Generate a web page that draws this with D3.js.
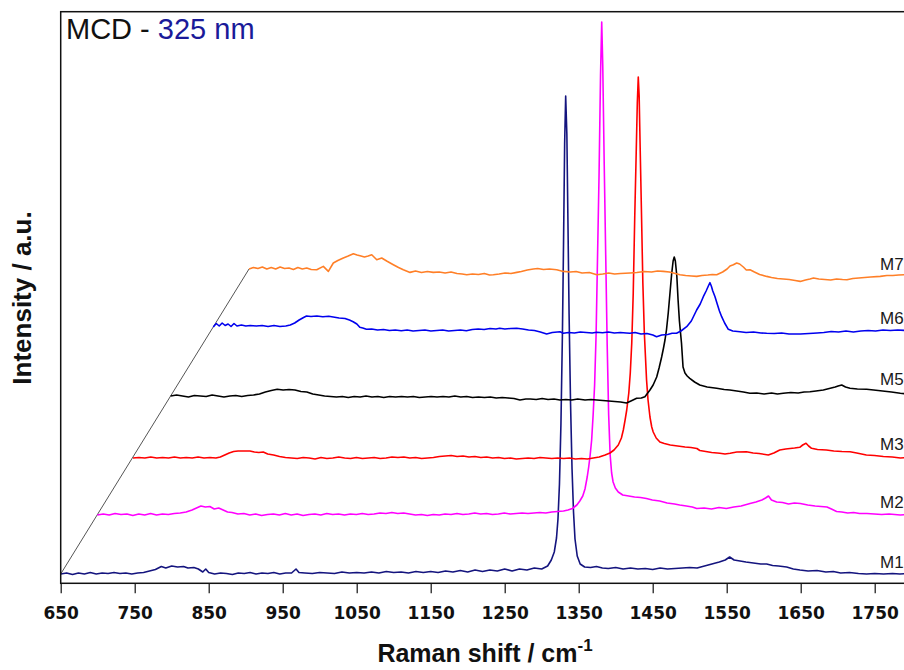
<!DOCTYPE html>
<html>
<head>
<meta charset="utf-8">
<script src="https://cdn.jsdelivr.net/npm/d3@7"></script>
<style>
  html, body { margin: 0; padding: 0; background: #fff; }
  svg { display: block; font-family: "Liberation Sans", Arial, sans-serif; }
</style>
</head>
<body>
<svg id="chart" width="904" height="670"></svg>
<script>
// ---------------- DATA ----------------
const categories = ["M1", "M2", "M3", "M5", "M6", "M7"];
// waterfall offsets applied to each spectrum (cm-1 shift, a.u. shift)
const xOffsets = [0, 49.5, 97.7, 148.6, 206.2, 254.5];
const yOffsets = [0, 59, 116, 178, 248, 305];
const xTicks = [650, 750, 850, 950, 1050, 1150, 1250, 1350, 1450, 1550, 1650, 1750];

// spectra: [Raman shift (cm-1), intensity (a.u.)]
const m1 = [[650,0],[658,1],[666,-0.5],[674,1],[682,0],[690,1.5],[698,0],[706,1],[714,0.5],[722,1.5],[730,0.5],[738,1],[746,0],[754,1],[762,1.5],[770,3],[778,4.5],[786,7.5],[792,6],[800,8],[808,7],[816,7.5],[822,6],[830,6.5],[836,5],[842,2],[846,5],[850,1.5],[858,0],[866,1],[874,0.5],[882,-0.5],[890,1],[898,0.5],[906,1.5],[914,0],[922,1],[930,0.5],[938,1.5],[946,0],[954,1],[962,1],[968,5],[972,1.5],[980,1],[990,0.5],[1000,1.5],[1010,1],[1020,0.5],[1030,2],[1040,1],[1050,1.5],[1060,1],[1070,2],[1080,1],[1090,2.5],[1100,1.5],[1110,2],[1120,1],[1130,2.5],[1140,1.5],[1150,2.5],[1160,1.5],[1170,3],[1180,2],[1190,3.5],[1200,2],[1210,4],[1220,2.5],[1230,4],[1240,3],[1250,5],[1260,3],[1270,5],[1280,4],[1290,6],
  [1300,5],[1308,8],[1313,14],[1317,22],[1320,36],[1322,55],[1324,90],[1326,150],[1328,240],[1329.5,330],[1331,430],[1332.4,478],[1334,440],[1335.5,350],[1337,260],[1339,170],[1341,105],[1343,62],[1345,35],[1348,18],[1352,10],[1358,7],
  [1366,6.5],[1374,7.5],[1382,6],[1390,5.5],[1400,6.5],[1410,5],[1420,6],[1430,5],[1440,5.5],[1450,4.5],[1460,6],[1470,5],[1480,5.5],[1490,6],[1500,6.5],[1510,6],[1520,8],[1530,10],[1540,12],[1548,14],[1554,17],[1560,14],[1568,13],[1576,12],[1586,11],[1596,10],[1604,10],[1612,8.5],[1620,8],[1631,7],[1640,5],[1649,4],[1660,3],[1672,3.5],[1684,2],[1694,2.5],[1704,1],[1716,1.5],[1728,0.5],[1739,0],[1750,0.5],[1762,0],[1774,0.5],[1784,0],[1796,0.5]];

const m2 = [[650,0],[658,1],[666,0],[674,1.5],[682,0.5],[690,1],[698,-0.5],[706,1],[714,0],[722,1.5],[730,0],[738,1],[746,0.5],[754,1.5],[762,2],[770,3],[778,5],[784,7],[790,9],[796,8],[802,8.5],[808,6],[814,7],[820,5],[826,3],[832,2.5],[840,1],[848,1.5],[856,0],[864,1],[872,-0.5],[880,0.5],[888,1],[896,0],[904,1.5],[912,0],[920,1],[928,-0.5],[936,0.5],[944,1],[952,0],[960,1.5],[968,0.5],[976,1],[984,0],[992,1],[1000,0.5],[1008,1.5],[1016,0.5],[1024,1],[1032,2],[1040,1.5],[1048,2.5],[1056,1.5],[1064,2],[1072,1],[1080,0],[1088,0.5],[1096,-0.5],[1104,0.5],[1112,0],[1120,1],[1128,0.5],[1136,1.5],[1144,0.5],[1152,1],[1160,2],[1168,1],[1176,1.5],[1184,0.5],[1192,1],[1200,2],[1208,1],[1216,1.5],[1224,2],[1232,1.5],[1240,2],[1248,2.5],[1256,2],[1264,3],[1272,3.5],[1280,4],[1286,5],[1292,6.5],
  [1298,10],[1302,14],[1306,19],[1309,26],[1312,38],[1314,48],[1316,60],[1318,75],[1320,100],[1322,130],[1324,180],[1326,260],[1328,340],[1330,440],[1331.6,493],[1333,450],[1335,350],[1337,260],[1339,170],[1341,100],[1343,60],[1345,42],[1347,33],[1350,27],[1354,23],[1360,20],[1368,19],[1376,18],[1384,17.5],[1392,16.5],[1400,15],[1410,14],[1420,12],[1430,11],[1437,10],[1446,9],[1454,8],[1460,6.5],[1470,7],[1480,6],[1490,7.5],[1500,6.5],[1510,8],[1520,9],[1532,11.5],[1540,13],[1548,15],[1553,17],[1557,19],[1561,15],[1568,13],[1576,12.5],[1584,11],[1592,12],[1600,11.5],[1610,10],[1620,9],[1628,8.5],[1636,8],[1642,6],[1649,3.5],[1656,3],[1664,2],[1672,2.5],[1680,1.5],[1690,1.5],[1700,1],[1710,0.5],[1720,1],[1735,0],[1745,0.5],[1760,0]];

const m3 = [[650,0],[658,0.5],[666,0],[674,1],[682,0],[690,0.5],[698,0],[706,1],[714,0],[722,0.5],[730,0],[738,1],[746,0],[754,0.5],[762,0],[768,1],[774,3],[780,5],[786,6.5],[792,7],[800,7],[808,7],[814,6],[820,5.5],[826,6],[832,4],[840,3],[848,1.5],[856,0.5],[864,0],[872,-0.5],[880,0.5],[888,0],[896,-1],[904,0.5],[912,-0.5],[920,0],[928,1],[936,0],[944,-0.5],[952,0.5],[960,-0.5],[968,0],[976,0.5],[984,-0.5],[992,0],[1000,1],[1008,0.5],[1016,1],[1024,0],[1032,0.5],[1040,-0.5],[1048,0],[1056,0.5],[1064,1.5],[1072,2],[1080,2.5],[1088,1.5],[1096,2],[1104,1],[1112,1.5],[1120,0.5],[1128,1],[1136,0],[1144,0.5],[1152,-0.5],[1160,0],[1168,-1],[1176,-0.5],[1184,0],[1192,-0.5],[1200,0.5],[1208,0],[1216,-0.5],[1224,0],[1232,-0.5],[1240,0],[1248,-1],[1256,-0.5],[1264,-1],[1272,0],[1280,1],[1288,3],
  [1294.6,5],[1300,8],[1305.8,13],[1310,20],[1312.6,28],[1315,38],[1317.2,48],[1320,65],[1322,85],[1324,115],[1326,165],[1328,240],[1330,305],[1331.5,355],[1332.8,381],[1334,362],[1335.5,305],[1337,250],[1339,175],[1341,125],[1344,78],[1346,58],[1348.6,41],[1351,31],[1353,26],[1357,20],[1362,16],[1368,14.5],[1376,13],[1386,12],[1396,11],[1404,10.5],[1412,9.5],[1416,7.5],[1424,6.5],[1432,5.5],[1443,4.7],[1450,4],[1457,4.7],[1466,6],[1479,6.3],[1488,5],[1496,4.5],[1508.5,3],[1516,5],[1524,8],[1532,9],[1544,10],[1551,10.7],[1555,13],[1559.5,14.7],[1563,12],[1567,9.7],[1575,8.5],[1587,8],[1597,7],[1608,6.5],[1619,6.3],[1628,5],[1641,3],[1652,2.5],[1664,1.5],[1676,1],[1687,0],[1700,0.5],[1715,0]];

const m5 = [[650,0],[658,1],[666,0],[674,-1],[682,0.5],[690,0],[698,-0.5],[706,1],[714,0],[722,-1],[730,0],[738,0.5],[746,-0.5],[754,0.5],[762,1],[770,2],[778,4],[786,5.5],[794,6.7],[802,6],[810,6.5],[818,6],[826,4.5],[834,4],[842,2],[850,1],[858,0],[866,-0.5],[874,-1],[882,-0.5],[890,-1.5],[898,-0.5],[906,-1],[914,0],[922,-1],[930,-0.5],[938,-1.5],[946,-0.5],[954,-1],[962,-0.5],[970,-1],[978,-0.5],[986,-1.5],[994,-1],[1002,-0.5],[1010,-1],[1018,-0.5],[1026,-1],[1034,0],[1042,-1],[1050,-0.5],[1058,-1.5],[1066,-1],[1074,-1.5],[1082,-1],[1090,-2],[1098,-1.5],[1106,-2],[1114,-2.5],[1122,-4],[1130,-3],[1136,-3],[1144,-3.5],[1152,-2.5],[1160,-3.5],[1168,-3],[1176,-4],[1184,-3.5],[1192,-4],[1200,-3],[1210,-4],[1218,-3.5],[1226,-4],[1234,-4.5],[1242,-5],[1250,-5.5],[1258,-6],[1266,-7],[1272,-5],[1279.7,-2.3],[1286,-2],[1290.9,-0.7],
  [1297.7,6],[1302,11],[1306.8,19],[1310,28],[1313.5,39],[1316,48],[1318,56],[1320,66],[1322.4,83],[1325,105],[1327,122],[1329,135],[1330.5,139],[1332,135],[1334,120],[1335.7,96],[1337.5,75],[1340.3,53],[1342.4,29],[1345,23],[1348,20],[1351.5,17.7],[1358,14],[1365,11],[1375,9],[1387.8,7.7],[1398,6.5],[1405.7,6],[1415,5],[1424,4],[1432.8,2.7],[1442,3],[1452,2],[1462,3],[1470,2],[1477.8,2.7],[1488,3.5],[1498,3],[1506,4],[1513.9,4.3],[1522,5],[1532,6],[1540,7.5],[1548,9],[1552,10],[1556.8,11],[1562,9],[1568,7.7],[1578,7],[1590.5,6.7],[1600,6],[1612,5],[1624,4],[1636,2.7],[1648,2],[1660,1.5],[1675,1],[1690,0.5]];

const m6 = [[650,-1],[654,2.5],[658,0],[662,3],[666,0.5],[670,2],[674,-0.5],[678,2.5],[682,0],[688,1],[694,0],[700,0.5],[708,0],[716,0.5],[724,-0.5],[732,0.5],[740,-0.5],[748,0],[754,1],[760,3],[766,6],[772,8.5],[776,10],[782,9.5],[790,10],[798,9.3],[806,9.7],[812,9],[820,8],[828,7.5],[834,6],[839,4.3],[844,2],[848,-1.3],[852,-2],[857,-3.3],[864,-3],[872,-4],[880,-3.5],[888,-4.5],[896,-4],[904,-4.7],[912,-4],[920,-5],[928,-4.5],[936,-4],[944,-5],[952,-4.5],[960,-4],[968,-5],[976,-4.5],[984,-4],[992,-4.7],[1000,-3.5],[1008,-3],[1016,-3.5],[1024,-2.5],[1032,-3],[1037,-2.3],[1044,-3],[1052,-2.5],[1060,-2.3],[1068,-3],[1076,-4],[1084,-4.5],[1092,-6],[1100.5,-8],[1108,-6.5],[1118.5,-5.7],[1123,-7.3],[1130,-6.5],[1138,-7],[1146,-6],[1154,-6.5],[1162,-7],[1168,-6.3],[1176,-6.8],[1184,-6],[1192,-7],[1200,-6.5],[1208,-7],[1213,-7.3],[1220,-6.5],[1228,-8],[1236,-7.5],[1244,-9],[1249,-10.7],[1256,-9],[1264,-8.5],[1270,-7.3],[1276,-7.3],[1282,-5],[1289.7,-0.7],
  [1296,5],[1303.2,16],[1308,22],[1312.2,29.3],[1316,35],[1319,40],[1321.2,43.3],[1323,40],[1325,35],[1328,29.3],[1331,22],[1334,15],[1337,9.3],[1341,3],[1346,-3.3],[1352,-5],[1361.8,-5.7],[1370,-6.5],[1380,-6],[1390,-7],[1397.8,-7.3],[1408,-7.5],[1418,-7],[1428,-8],[1443.4,-8],[1455,-7.5],[1466,-7],[1475,-6.5],[1485,-5.5],[1495,-6],[1505,-5],[1515,-6],[1525,-5],[1535,-4.5],[1545,-5],[1555,-4],[1565,-4.5],[1575,-4],[1585,-4.5],[1595,-4]];

const m7 = [[650,0],[656,1.5],[662,0.5],[668,2],[674,0],[680,1.5],[686,0],[692,2],[698,0.5],[704,1],[710,-0.5],[716,1.5],[722,0],[728,1],[734,-0.5],[741.5,-0.7],[750.4,2.6],[757.2,-2.4],[763.9,6],[770,8.5],[777.4,11],[784,13],[791,15.3],[796,14],[800,13.3],[806,12],[811,13],[815.8,14.3],[822.6,9.3],[829.3,11],[836,8],[845,4.3],[852,1.5],[858.5,-0.7],[867.6,-3.4],[875,-2],[883,-3.5],[891,-2.5],[899,-3.4],[907,-3],[915,-4],[923,-3],[931,-4.5],[938,-5],[944.2,-5.7],[952,-5],[960,-5.5],[968,-4.5],[975,-6],[980.1,-5.7],[988,-5],[996,-4],[1004,-4.5],[1011.8,-3.4],[1018,-2.5],[1026,-1],[1034.2,0],[1040,0.5],[1048,-0.5],[1056,0],[1065.8,-0.7],[1074.7,-2.4],[1084,-3],[1092,-2.5],[1100,-4],[1110,-3.5],[1119.9,-5.7],[1128,-5],[1136,-4],[1144,-5],[1152,-4.5],[1164.9,-4],[1174,-3.5],[1184,-2.5],[1194,-3],[1202,-2],[1209.9,-2.4],[1218,-3],[1226,-4.5],[1232.4,-5.7],[1240,-6.5],[1248,-7],[1255,-7.4],[1262,-6.5],[1270,-6],[1276,-5.5],[1282,-5.7],[1290,-3],[1296,0],[1300,3],[1304.5,4.3],[1309,6],[1313,5],[1318,2],[1322,-1],[1327,-0.7],[1333,-3],[1340,-5.5],[1349.6,-7.4],[1356,-8.5],[1364,-9.5],[1372,-10],[1380,-10.5],[1388,-11.5],[1394.9,-12.4],[1402,-11],[1408,-10],[1412.8,-9],[1420,-10],[1428,-10.5],[1436,-11],[1444,-10],[1452,-10.5],[1458,-10.7],[1466,-9.5],[1474,-9],[1482,-8.5],[1490,-8],[1503,-7.4],[1512,-6.5],[1520,-6.5],[1528,-6],[1535,-5.7],[1545,-6]];

const seriesValues = [m1, m2, m3, m5, m6, m7];
const seriesColors = ["#14147e", "#ff00ff", "#ff0000", "#000000", "#0000ee", "#ff7f27"];

// ---------------- LAYOUT ----------------
const svg = d3.select("#chart");
const plot = { left: 60.7, top: 11.7, right: 920, bottom: 583.3 };

const x = d3.scaleLinear().domain([650, 1800]).range([plot.left, plot.left + 1150 * 0.74]);
const y = d3.scaleLinear().domain([-9.3, 562.3]).range([plot.bottom, plot.top]);

svg.append("defs").append("clipPath").attr("id", "clip")
  .append("rect")
  .attr("x", plot.left).attr("y", plot.top)
  .attr("width", plot.right - plot.left).attr("height", plot.bottom - plot.top);

// slanted guide line through the spectra origins
const first = 0, last = categories.length - 1;
svg.append("line")
  .attr("x1", x(650 + xOffsets[first])).attr("y1", y(yOffsets[first]))
  .attr("x2", x(650 + xOffsets[last])).attr("y2", y(yOffsets[last]))
  .attr("stroke", "#555").attr("stroke-width", 1);

const line = d3.line()
  .x(d => x(d[0]))
  .y(d => y(d[1]));

const g = svg.append("g").attr("clip-path", "url(#clip)");
categories.forEach((name, i) => {
  const pts = seriesValues[i].map(d => [d[0] + xOffsets[i], d[1] + yOffsets[i]]);
  g.append("path")
    .datum(pts)
    .attr("fill", "none")
    .attr("stroke", seriesColors[i])
    .attr("stroke-width", 1.6)
    .attr("stroke-linejoin", "round")
    .attr("d", line);
});

// series labels at the right edge
const labelX = 880;
categories.forEach((name, i) => {
  const raw = x.invert(labelX) - xOffsets[i];
  const vals = seriesValues[i];
  const bis = d3.bisector(d => d[0]).left;
  let k = Math.min(Math.max(bis(vals, raw), 1), vals.length - 1);
  const a = vals[k - 1], b = vals[k];
  const t = Math.max(0, Math.min(1, (raw - a[0]) / (b[0] - a[0])));
  const v = a[1] + t * (b[1] - a[1]);
  svg.append("text")
    .attr("x", labelX)
    .attr("y", y(v + yOffsets[i]) - 6)
    .attr("font-size", 17)
    .attr("fill", "#1a1a1a")
    .text(name);
});

// frame
svg.append("rect")
  .attr("x", plot.left).attr("y", plot.top)
  .attr("width", plot.right - plot.left).attr("height", plot.bottom - plot.top)
  .attr("fill", "none").attr("stroke", "#111").attr("stroke-width", 1.5);

// x axis
const xAxis = d3.axisBottom(x).tickValues(xTicks).tickFormat(d3.format("d"))
  .tickSize(10).tickPadding(14).tickSizeOuter(0);
const ax = svg.append("g").attr("transform", `translate(0,${plot.bottom})`).call(xAxis);
ax.select(".domain").remove();
ax.selectAll(".tick line").attr("stroke", "#111").attr("stroke-width", 1.2);
ax.selectAll(".tick text")
  .attr("font-family", "'DejaVu Sans', 'Liberation Sans', Arial, sans-serif")
  .attr("font-size", 17).attr("font-weight", "bold").attr("fill", "#111");

// axis titles
const xt = svg.append("text")
  .attr("x", 485).attr("y", 662)
  .attr("text-anchor", "middle")
  .attr("font-size", 25).attr("font-weight", "bold").attr("fill", "#111");
xt.append("tspan").text("Raman shift / cm");
xt.append("tspan").attr("dy", -11).attr("font-size", 17).text("-1");

svg.append("text")
  .attr("transform", "translate(31,298) rotate(-90)")
  .attr("text-anchor", "middle")
  .attr("font-size", 26).attr("font-weight", "bold").attr("fill", "#111")
  .text("Intensity / a.u.");

// title
const tt = svg.append("text").attr("x", 66).attr("y", 39.3).attr("font-size", 29).attr("fill", "#111");
tt.append("tspan").text("MCD - ");
tt.append("tspan").attr("fill", "#1a1a99").text("325 nm");
</script>
</body>
</html>
